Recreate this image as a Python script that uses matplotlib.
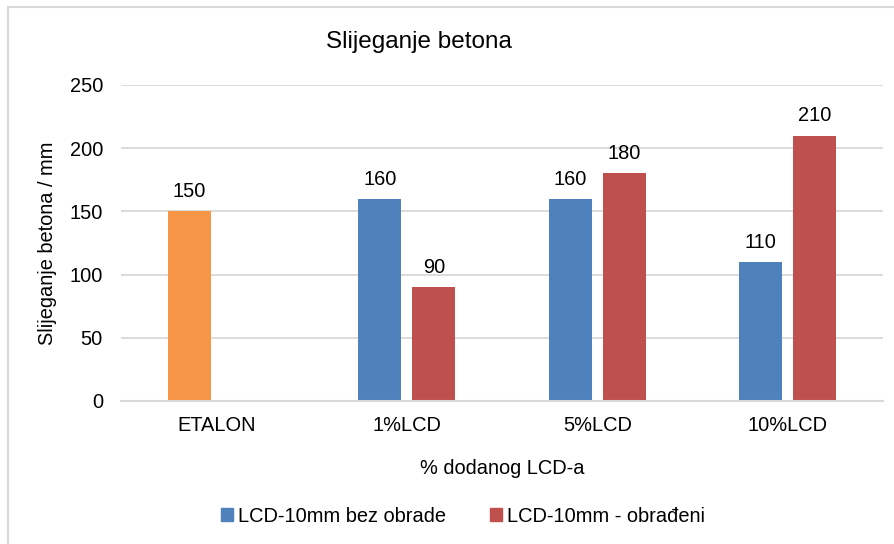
import matplotlib
matplotlib.use("Agg")
import matplotlib.pyplot as plt
import numpy as np
from matplotlib.patches import Rectangle, Patch

plt.rcParams['font.family'] = ['Liberation Sans', 'DejaVu Sans']

categories = ["ETALON", "1%LCD", "5%LCD", "10%LCD"]
series_names = ["LCD-10mm bez obrade", "LCD-10mm - obrađeni"]
untreated = [150, 160, 160, 110]
treated = [None, 90, 180, 210]
yticks = [0, 50, 100, 150, 200, 250]

blue = "#4F81BD"
red = "#C0504D"
orange = "#F79646"
grid_c = "#D9D9D9"

W, H = 895, 544
fig = plt.figure(figsize=(W / 100, H / 100), dpi=100)

# chart frame
fig.patches.append(Rectangle((8 / W, -0.01), 1.05, (H - 7) / H + 0.01,
                             transform=fig.transFigure, fill=False,
                             edgecolor=grid_c, linewidth=1.5))

ax = fig.add_axes([121 / W, (H - 401) / H, 762 / W, 316 / H])
x = np.arange(len(categories))
bw = 0.226
off = 0.142

cols1 = [orange] + [blue] * (len(categories) - 1)
for i, v in enumerate(untreated):
    ax.bar(x[i] - off, v, bw, color=cols1[i], zorder=3)
    ax.text(x[i] - off, v + 8, f"{v}", ha="center", va="bottom", fontsize=14.4)
for i, v in enumerate(treated):
    if v is None:
        continue
    ax.bar(x[i] + off, v, bw, color=red, zorder=3)
    ax.text(x[i] + off, v + 8, f"{v}", ha="center", va="bottom", fontsize=14.4)

ax.set_xlim(-0.5, len(categories) - 0.5)
ax.set_ylim(0, 250)
ax.set_yticks(yticks)
ax.set_yticklabels([str(t) for t in yticks], fontsize=14.4)
ax.set_xticks(x)
ax.set_xticklabels(categories, fontsize=14.4)
ax.tick_params(axis="both", length=0)
ax.tick_params(axis="y", pad=13)
ax.tick_params(axis="x", pad=11)
ax.grid(axis="y", color=grid_c, linewidth=1.3, zorder=0)
for s in ["top", "right", "left"]:
    ax.spines[s].set_visible(False)
ax.spines["bottom"].set_color(grid_c)
ax.spines["bottom"].set_linewidth(1.5)
ax.spines["bottom"].set_zorder(4)

ax.set_ylabel("Slijeganje betona / mm", fontsize=14.4, va="center")
ax.yaxis.set_label_coords((48 - 121) / 762, (401 - 243) / 316)
fig.text(419 / W, 1 - 42 / H, "Slijeganje betona", ha="center", va="center", fontsize=17.5)
fig.text(502 / W, 1 - 468 / H, "% dodanog LCD-a", ha="center", va="center", fontsize=14.4)

handles = [Patch(color=blue), Patch(color=red)]
fig.legend(handles, series_names, loc="center", bbox_to_anchor=(463 / W, 1 - 516 / H),
           ncol=2, frameon=False, fontsize=14.4, handlelength=0.6, handleheight=0.6,
           handletextpad=0.25, columnspacing=2.2)

fig.savefig("out.png", dpi=100)
